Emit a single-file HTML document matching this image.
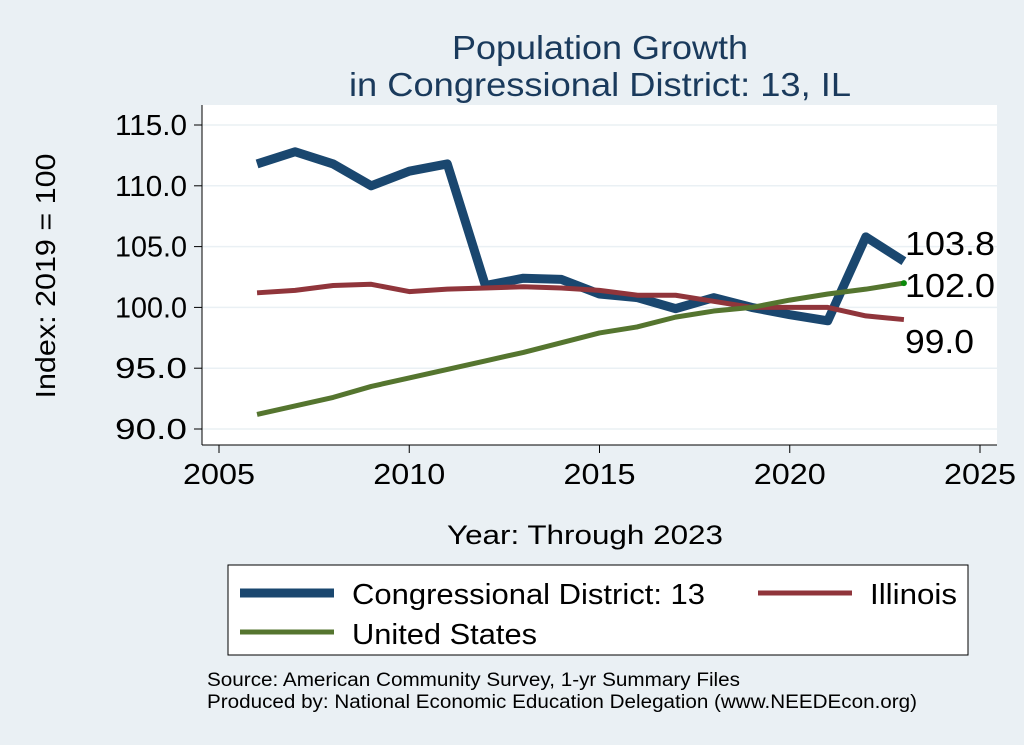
<!DOCTYPE html>
<html><head><meta charset="utf-8"><style>
body{margin:0;background:#eaf0f4;}
svg{display:block;font-family:"Liberation Sans",Arial,sans-serif;}
</style></head><body>
<svg id="s" width="1024" height="745" xmlns="http://www.w3.org/2000/svg">
<rect width="1024" height="745" fill="#eaf0f4"/>
<rect x="202" y="105" width="795" height="340" fill="#fff"/>
<g id="grid" stroke="#eaf0f4" stroke-width="1.5"></g>
<line x1="202" y1="105" x2="202" y2="445" stroke="#000" stroke-width="1"/>
<line x1="202" y1="445" x2="997" y2="445" stroke="#000" stroke-width="1"/>
<g id="ticks"></g>
<text x="600" y="59" font-size="33" fill="#1a3a5c" text-anchor="middle" textLength="296" lengthAdjust="spacingAndGlyphs">Population Growth</text>
<text x="600" y="96" font-size="33" fill="#1a3a5c" text-anchor="middle" textLength="502" lengthAdjust="spacingAndGlyphs">in Congressional District: 13, IL</text>
<text x="55" y="276" font-size="28" text-anchor="middle" transform="rotate(-90 55 276)" textLength="245" lengthAdjust="spacingAndGlyphs">Index: 2019 = 100</text>
<text x="585" y="544" font-size="27" text-anchor="middle" textLength="276" lengthAdjust="spacingAndGlyphs">Year: Through 2023</text>
<g id="lines"></g>
<text x="905" y="255" font-size="33" textLength="90" lengthAdjust="spacingAndGlyphs">103.8</text>
<text x="905" y="297" font-size="33" textLength="90" lengthAdjust="spacingAndGlyphs">102.0</text>
<text x="905" y="353" font-size="33" textLength="69" lengthAdjust="spacingAndGlyphs">99.0</text>
<rect x="228" y="565" width="740" height="90" fill="#fff" stroke="#000" stroke-width="1"/>
<line x1="240" y1="593" x2="334" y2="593" stroke="#1a476f" stroke-width="9"/>
<text x="352" y="604" font-size="29" textLength="353" lengthAdjust="spacingAndGlyphs">Congressional District: 13</text>
<line x1="758" y1="593" x2="852" y2="593" stroke="#90353b" stroke-width="5"/>
<text x="870" y="604" font-size="29" textLength="87" lengthAdjust="spacingAndGlyphs">Illinois</text>
<line x1="240" y1="632" x2="334" y2="632" stroke="#55752f" stroke-width="5"/>
<text x="352" y="644" font-size="29" textLength="185" lengthAdjust="spacingAndGlyphs">United States</text>
<text x="207" y="686" font-size="19" textLength="533" lengthAdjust="spacingAndGlyphs">Source: American Community Survey, 1-yr Summary Files</text>
<text x="207" y="708" font-size="19" textLength="710" lengthAdjust="spacingAndGlyphs">Produced by: National Economic Education Delegation (www.NEEDEcon.org)</text>
</svg>
<script>
var NS="http://www.w3.org/2000/svg";
function X(y){return 219+(y-2005)*38.05;}
function Y(v){return 307.4-(v-100)*12.16;}
function el(p,t,a,txt){var e=document.createElementNS(NS,t);for(var k in a)e.setAttribute(k,a[k]);if(txt)e.textContent=txt;document.getElementById(p).appendChild(e);}
for(var v=90;v<=115;v+=5){el("grid","line",{x1:202,x2:997,y1:Y(v),y2:Y(v)});
el("ticks","line",{x1:194,x2:202,y1:Y(v),y2:Y(v),stroke:"#000"});
el("ticks","text",{x:187,y:Y(v)+10,"font-size":29,"text-anchor":"end",textLength:72,lengthAdjust:"spacingAndGlyphs"},v.toFixed(1));}
for(var yr=2005;yr<=2025;yr+=5){el("ticks","line",{x1:X(yr),x2:X(yr),y1:445,y2:453,stroke:"#000"});
el("ticks","text",{x:X(yr),y:484,"font-size":29,"text-anchor":"middle",textLength:72,lengthAdjust:"spacingAndGlyphs"},""+yr);}
var cd=[111.8,112.8,111.8,110.0,111.2,111.8,101.8,102.4,102.3,101.1,100.8,99.9,100.8,100,99.4,98.9,105.8,103.8];
var il=[101.2,101.4,101.8,101.9,101.3,101.5,101.6,101.7,101.6,101.4,101.0,101.0,100.5,100,100,100,99.3,99.0];
var us=[91.2,91.9,92.6,93.5,94.2,94.9,95.6,96.3,97.1,97.9,98.4,99.2,99.7,100,100.6,101.1,101.5,102.0];
function pts(d){return d.map(function(v,i){return X(2006+i)+","+Y(v);}).join(" ");}
el("lines","polyline",{points:pts(cd),fill:"none",stroke:"#1a476f","stroke-width":9,"stroke-linejoin":"round"});
el("lines","polyline",{points:pts(il),fill:"none",stroke:"#90353b","stroke-width":5,"stroke-linejoin":"round"});
el("lines","polyline",{points:pts(us),fill:"none",stroke:"#55752f","stroke-width":5,"stroke-linejoin":"round"});
el("lines","circle",{cx:X(2023),cy:Y(102),r:3,fill:"#0a8a0a"});
</script>
</body></html>
